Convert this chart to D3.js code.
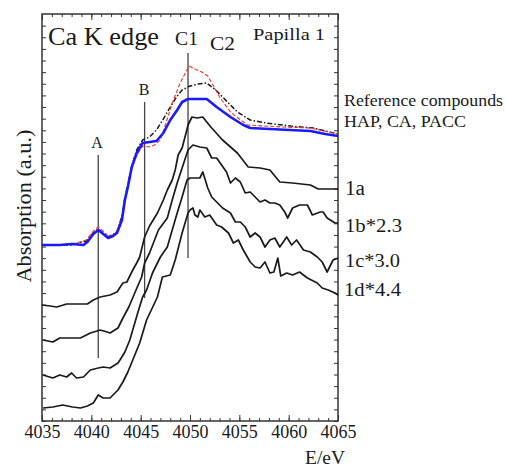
<!DOCTYPE html>
<html>
<head>
<meta charset="utf-8">
<script src="https://cdn.jsdelivr.net/npm/d3@7"></script>
<style>
body { margin: 0; background: #fff; }
text { font-family: "Liberation Serif", "DejaVu Serif", serif; fill: #1a1a1a; }
</style>
</head>
<body>
<div id="chart"></div>
<script>
// Energies (eV) and absorption (a.u.)
let eBlue = [4035.0, 4036.8, 4038.0, 4039.2, 4039.6, 4040.2, 4040.7, 4041.2, 4041.7, 4042.2, 4042.6, 4043.1, 4043.4, 4043.7, 4044.1, 4044.6, 4045.2, 4045.9, 4046.6, 4047.3, 4048.0, 4048.7, 4049.2, 4049.8, 4050.8, 4051.7, 4052.7, 4054.1, 4055.4, 4056.1, 4058.1, 4060.1, 4062.2, 4063.7, 4065.0]
let aBlue = [1.76, 1.76, 1.77, 1.76, 1.79, 1.87, 1.91, 1.87, 1.83, 1.85, 1.88, 2.01, 2.21, 2.34, 2.54, 2.68, 2.78, 2.79, 2.80, 2.88, 3.01, 3.11, 3.19, 3.22, 3.22, 3.22, 3.14, 3.04, 2.96, 2.93, 2.92, 2.91, 2.90, 2.87, 2.85]

let eRed = [4035.0, 4036.8, 4038.5, 4039.5, 4040.2, 4040.7, 4041.2, 4041.7, 4042.2, 4042.6, 4043.1, 4043.4, 4043.7, 4044.1, 4044.6, 4045.2, 4045.9, 4046.4, 4047.0, 4047.6, 4048.2, 4049.0, 4049.9, 4050.5, 4051.2, 4051.8, 4052.5, 4053.0, 4054.1, 4055.8, 4059.4, 4062.2, 4065.0]
let aRed = [1.76, 1.76, 1.78, 1.81, 1.90, 1.94, 1.90, 1.85, 1.86, 1.90, 2.03, 2.21, 2.35, 2.53, 2.66, 2.75, 2.74, 2.76, 2.81, 2.99, 3.18, 3.38, 3.55, 3.52, 3.49, 3.45, 3.33, 3.24, 3.09, 2.96, 2.94, 2.93, 2.87]

let eDash = [4035.0, 4038.0, 4039.5, 4040.2, 4040.7, 4041.2, 4041.7, 4042.6, 4043.1, 4043.4, 4043.7, 4044.1, 4044.6, 4045.2, 4045.9, 4046.6, 4047.3, 4048.0, 4048.7, 4049.2, 4050.0, 4050.8, 4051.7, 4052.6, 4053.3, 4054.8, 4056.1, 4057.7, 4060.2, 4062.5, 4065.0]
let aDash = [1.76, 1.76, 1.80, 1.88, 1.92, 1.88, 1.84, 1.89, 2.05, 2.23, 2.37, 2.55, 2.71, 2.81, 2.84, 2.91, 3.02, 3.14, 3.25, 3.31, 3.35, 3.37, 3.38, 3.31, 3.24, 3.09, 3.01, 2.98, 2.95, 2.93, 2.87]

let e1a = [4035.0, 4035.8, 4036.5, 4037.5, 4038.9, 4039.6, 4040.2, 4040.9, 4041.9, 4042.6, 4043.2, 4043.6, 4044.2, 4044.6, 4044.9, 4045.4, 4045.9, 4046.7, 4047.3, 4047.7, 4048.2, 4048.5, 4048.8, 4049.2, 4049.6, 4049.8, 4050.2, 4050.7, 4051.3, 4051.7, 4052.2, 4053.3, 4054.8, 4055.9, 4057.1, 4058.1, 4059.1, 4060.4, 4062.2, 4063.0, 4065.0]
let a1a = [1.16, 1.15, 1.14, 1.17, 1.17, 1.17, 1.21, 1.24, 1.26, 1.29, 1.38, 1.39, 1.51, 1.58, 1.64, 1.84, 1.95, 2.08, 2.21, 2.31, 2.41, 2.51, 2.66, 2.73, 2.88, 2.96, 3.04, 3.03, 3.04, 2.99, 2.93, 2.81, 2.68, 2.54, 2.53, 2.51, 2.39, 2.38, 2.36, 2.32, 2.32]

let e1b = [4035.1, 4036.1, 4036.8, 4038.9, 4039.9, 4040.9, 4041.6, 4041.9, 4042.7, 4043.2, 4043.8, 4044.4, 4045.1, 4045.4, 4045.9, 4046.8, 4047.7, 4048.2, 4048.7, 4049.2, 4049.8, 4050.0, 4050.3, 4051.0, 4051.7, 4052.2, 4052.7, 4053.2, 4053.7, 4054.1, 4054.6, 4055.1, 4055.6, 4056.1, 4056.6, 4057.1, 4057.6, 4058.1, 4058.6, 4059.1, 4059.6, 4059.9, 4060.4, 4061.1, 4061.9, 4062.4, 4063.2, 4063.5, 4063.9, 4064.7, 4065.0]
let a1b = [0.81, 0.79, 0.83, 0.83, 0.88, 0.91, 0.89, 0.88, 0.93, 1.03, 1.14, 1.28, 1.44, 1.58, 1.68, 1.91, 2.03, 2.21, 2.38, 2.53, 2.71, 2.73, 2.76, 2.74, 2.73, 2.63, 2.63, 2.56, 2.49, 2.38, 2.43, 2.39, 2.28, 2.29, 2.24, 2.19, 2.21, 2.18, 2.18, 2.16, 2.09, 2.03, 2.13, 2.16, 2.16, 2.06, 2.09, 2.09, 2.03, 1.98, 1.98]

let e1c = [4035.1, 4036.1, 4036.8, 4037.5, 4038.0, 4038.5, 4039.2, 4039.9, 4040.7, 4041.2, 4041.9, 4042.7, 4042.9, 4043.4, 4043.9, 4044.7, 4045.2, 4045.6, 4046.2, 4047.0, 4047.7, 4048.2, 4048.7, 4049.2, 4049.7, 4050.0, 4051.0, 4051.3, 4051.8, 4052.2, 4052.7, 4053.3, 4054.1, 4054.6, 4055.1, 4055.6, 4056.1, 4056.6, 4057.1, 4057.6, 4058.1, 4058.6, 4059.1, 4059.8, 4060.3, 4060.8, 4061.5, 4062.2, 4062.9, 4063.4, 4063.9, 4064.5, 4065.0]
let a1c = [0.46, 0.43, 0.46, 0.44, 0.48, 0.43, 0.44, 0.51, 0.53, 0.54, 0.53, 0.58, 0.61, 0.69, 0.81, 1.08, 1.24, 1.31, 1.48, 1.64, 1.74, 1.91, 2.08, 2.24, 2.41, 2.43, 2.43, 2.49, 2.33, 2.24, 2.19, 2.13, 2.08, 1.99, 1.99, 1.94, 1.84, 1.88, 1.84, 1.74, 1.81, 1.83, 1.74, 1.84, 1.76, 1.81, 1.71, 1.69, 1.64, 1.59, 1.49, 1.61, 1.63]

let e1d = [4035.1, 4036.1, 4037.1, 4038.1, 4038.9, 4039.6, 4040.2, 4040.7, 4041.2, 4041.9, 4042.7, 4043.2, 4043.7, 4044.2, 4044.9, 4045.6, 4046.7, 4047.2, 4048.0, 4048.5, 4049.2, 4049.8, 4050.0, 4050.3, 4050.5, 4050.8, 4051.0, 4051.5, 4052.0, 4052.7, 4053.2, 4053.9, 4054.4, 4054.9, 4055.4, 4056.1, 4056.6, 4057.1, 4057.6, 4058.1, 4058.5, 4058.9, 4059.2, 4059.8, 4060.4, 4061.1, 4061.9, 4062.9, 4063.4, 4064.0, 4064.7, 4065.0]
let a1d = [0.13, 0.14, 0.16, 0.14, 0.13, 0.15, 0.18, 0.26, 0.23, 0.23, 0.31, 0.39, 0.49, 0.61, 0.78, 1.01, 1.24, 1.44, 1.46, 1.61, 1.88, 2.08, 2.11, 2.13, 2.06, 2.04, 2.11, 2.04, 2.06, 1.96, 1.94, 1.88, 1.78, 1.81, 1.71, 1.59, 1.54, 1.53, 1.59, 1.48, 1.49, 1.63, 1.45, 1.48, 1.46, 1.49, 1.43, 1.38, 1.33, 1.31, 1.28, 1.26]

// Feature markers: energy and vertical extent
let markerNames = ['A', 'B', 'C1']
let markerEnergy = [4040.7, 4045.4, 4049.8]
let markerLow = [0.63, 1.23, 1.63]
let markerHigh = [2.66, 3.19, 3.68]

let xTickLabels = [4035, 4040, 4045, 4050, 4055, 4060, 4065]

// Set bounds
let svgWidth = 506, svgHeight = 469
let margin = { top: 14, right: 168, bottom: 48, left: 42 }
let width = svgWidth - margin.left - margin.right
let height = svgHeight - margin.top - margin.bottom

let svg = d3.select('#chart')
    .append('svg')
    .attr('width', svgWidth)
    .attr('height', svgHeight)

let g = svg.append('g')
    .attr('transform', 'translate(' + margin.left + ',' + margin.top + ')')

let x = d3.scaleLinear().domain([4035, 4065]).range([0, width])
let y = d3.scaleLinear().domain([0, 4.07]).range([height, 0])

let yTicks = d3.range(0, 35).map(i => i * 4.07 / 35)

// Ticks on all four sides, pointing inwards
let styleAxis = sel => {
    sel.select('.domain').remove()
    sel.selectAll('line').attr('stroke', '#333')
}
g.append('g').attr('transform', 'translate(0,' + height + ')')
    .call(d3.axisBottom(x).tickValues(d3.range(4035, 4066, 1)).tickSize(-3).tickFormat(''))
    .call(styleAxis)
g.append('g').attr('transform', 'translate(0,' + height + ')')
    .call(d3.axisBottom(x).tickValues(xTickLabels).tickSize(-6).tickPadding(4).tickFormat(d3.format('d')))
    .call(styleAxis)
    .selectAll('text')
    .style('font-size', '18px')
    .attr('fill', '#1a1a1a')
g.append('g')
    .call(d3.axisTop(x).tickValues(d3.range(4035, 4066, 1)).tickSize(-3).tickFormat(''))
    .call(styleAxis)
g.append('g')
    .call(d3.axisTop(x).tickValues(xTickLabels).tickSize(-6).tickFormat(''))
    .call(styleAxis)
g.append('g')
    .call(d3.axisLeft(y).tickValues(yTicks).tickSize(-4).tickFormat(''))
    .call(styleAxis)
g.append('g').attr('transform', 'translate(' + width + ',0)')
    .call(d3.axisRight(y).tickValues(yTicks).tickSize(-4).tickFormat(''))
    .call(styleAxis)

// Frame
g.append('rect')
    .attr('width', width)
    .attr('height', height)
    .attr('fill', 'none')
    .attr('stroke', '#333')
    .attr('stroke-width', 1.5)

// Marker lines
markerNames.forEach((m, i) => {
    g.append('line')
        .attr('x1', x(markerEnergy[i])).attr('x2', x(markerEnergy[i]))
        .attr('y1', y(markerLow[i])).attr('y2', y(markerHigh[i]))
        .attr('stroke', '#444')
        .attr('stroke-width', 1.3)
})

let line = d3.line()
    .x(d => x(d[0]))
    .y(d => y(d[1]))

let series = [
    { e: e1a, a: a1a, color: '#1a1a1a', w: 1.7, dash: null },
    { e: e1b, a: a1b, color: '#1a1a1a', w: 1.7, dash: null },
    { e: e1c, a: a1c, color: '#1a1a1a', w: 1.7, dash: null },
    { e: e1d, a: a1d, color: '#1a1a1a', w: 1.7, dash: null },
    { e: eDash, a: aDash, color: '#1a1a1a', w: 1.5, dash: '5,2,1.5,2' },
    { e: eRed, a: aRed, color: '#e8352f', w: 1.1, dash: '4,2' },
    { e: eBlue, a: aBlue, color: '#1a1aff', w: 2.6, dash: null }
]

series.forEach(s => {
    g.append('path')
        .datum(d3.zip(s.e, s.a))
        .attr('fill', 'none')
        .attr('stroke', s.color)
        .attr('stroke-width', s.w)
        .attr('stroke-dasharray', s.dash)
        .attr('stroke-linejoin', 'round')
        .attr('d', line)
})

// Labels
let label = (txt, px, py, size, len, anchor) => {
    let t = svg.append('text')
        .attr('x', px).attr('y', py)
        .style('font-size', size + 'px')
        .attr('text-anchor', anchor || 'start')
        .text(txt)
    if (len) t.attr('textLength', len).attr('lengthAdjust', 'spacingAndGlyphs')
    return t
}
label('Ca K edge', 48, 45, 25, 111)
label('C1', 175, 45, 19, 23)
label('C2', 210, 50, 18, 25)
label('Papilla 1', 253, 40, 17, 72)
label('A', 97, 148, 16, null, 'middle')
label('B', 144, 95, 16, null, 'middle')
label('Reference compounds', 344, 106, 17, 159)
label('HAP, CA, PACC', 344, 127, 17, 122)
label('1a', 345, 195, 20, 20)
label('1b*2.3', 345, 232, 19, 57)
label('1c*3.0', 345, 267, 19, 55)
label('1d*4.4', 344, 296, 19, 57)
label('E/eV', 325, 464, 18, 40, 'middle')

svg.append('text')
    .attr('transform', 'translate(31,206) rotate(-90)')
    .attr('text-anchor', 'middle')
    .style('font-size', '20px')
    .attr('textLength', 153)
    .attr('lengthAdjust', 'spacingAndGlyphs')
    .text('Absorption (a.u.)')
</script>
</body>
</html>
